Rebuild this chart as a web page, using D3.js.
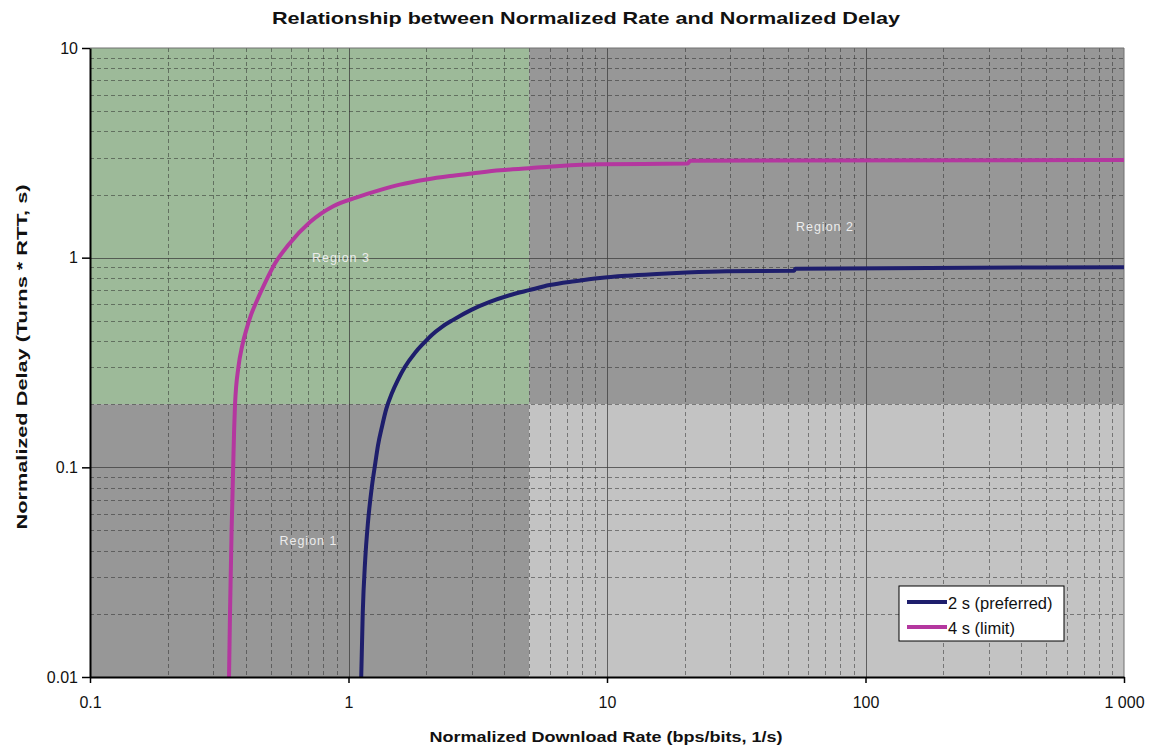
<!DOCTYPE html>
<html>
<head>
<meta charset="utf-8">
<script src="https://cdn.jsdelivr.net/npm/d3@7"></script>
<style>
  html, body { margin: 0; padding: 0; background: #ffffff; }
  svg { display: block; font-family: "Liberation Sans", Arial, sans-serif; }
</style>
</head>
<body>
<svg id="chart" width="1160" height="748"></svg>
<script>
// Normalized download rate (1/s) and normalized delay (s) along each delay budget curve
const preferredRate  = [1.12, 1.135, 1.16, 1.19, 1.23, 1.27, 1.30, 1.35, 1.40, 1.47, 1.55, 1.65, 1.81, 1.95, 2.1, 2.3, 2.54, 3.0, 3.52, 4.2, 5.0, 6.0, 7.5, 9.4, 12, 15.6, 20.3, 29, 53, 53.5, 1000];
const preferredDelay = [0.01, 0.02, 0.036, 0.055, 0.08, 0.105, 0.127, 0.158, 0.19, 0.225, 0.26, 0.30, 0.352, 0.39, 0.428, 0.468, 0.505, 0.565, 0.615, 0.662, 0.70, 0.74, 0.772, 0.80, 0.82, 0.836, 0.85, 0.862, 0.866, 0.886, 0.90];

const limitRate  = [0.345, 0.348, 0.351, 0.353, 0.356, 0.358, 0.361, 0.364, 0.375, 0.388, 0.404, 0.42, 0.44, 0.476, 0.52, 0.585, 0.71, 0.873, 1.076, 1.32, 1.58, 2.0, 2.47, 3.0, 3.86, 5.0, 6.57, 9.4, 20.5, 21, 1000];
const limitDelay = [0.01, 0.02, 0.035, 0.05, 0.075, 0.1, 0.15, 0.2, 0.3, 0.38, 0.46, 0.535, 0.615, 0.76, 0.94, 1.15, 1.48, 1.76, 1.94, 2.10, 2.23, 2.36, 2.45, 2.52, 2.61, 2.67, 2.74, 2.79, 2.81, 2.90, 2.92];

const seriesNames = ["2 s (preferred)", "4 s (limit)"];

// Operating regions: rate span and delay span
const regionNames  = ["Region 3", "Region 2", "Region 1", ""];
const regionRates  = [[0.1, 5], [5, 1000], [0.1, 5], [5, 1000]];
const regionDelays = [[0.2, 10], [0.2, 10], [0.01, 0.2], [0.01, 0.2]];
// where each region's name sits, in rate / delay units
const regionLabelRate  = [0.935, 69.7, 0.70, null];
const regionLabelDelay = [1.0, 1.4, 0.0446, null];

const xTickValues = [0.1, 1, 10, 100, 1000];
const xTickLabels = ["0.1", "1", "10", "100", "1 000"];
const yTickValues = [0.01, 0.1, 1, 10];
const yTickLabels = ["0.01", "0.1", "1", "10"];

const titleText = "Relationship between Normalized Rate and Normalized Delay";
const xTitle = "Normalized Download Rate (bps/bits, 1/s)";
const yTitle = "Normalized Delay (Turns * RTT, s)";

// ---- layout ----
const svg = d3.select("#chart");
const margin = { left: 90, right: 36, top: 48, bottom: 71 };
const W = 1160, H = 748;
const x = d3.scaleLog().domain([0.1, 1000]).range([margin.left, W - margin.right]);
const y = d3.scaleLog().domain([0.01, 10]).range([H - margin.bottom, margin.top]);

const regionColors = ["#9dba99", "#979797", "#979797", "#c3c3c3"];
const seriesColors = ["#1e1e6c", "#b4379f"];

// region backgrounds
const regions = regionNames.map((n, i) => ({ name: n, r: regionRates[i], d: regionDelays[i], color: regionColors[i], lr: regionLabelRate[i], ld: regionLabelDelay[i] }));
svg.append("g").selectAll("rect").data(regions).join("rect")
  .attr("x", d => x(d.r[0]))
  .attr("y", d => y(d.d[1]))
  .attr("width", d => x(d.r[1]) - x(d.r[0]))
  .attr("height", d => y(d.d[0]) - y(d.d[1]))
  .attr("fill", d => d.color);

// grid lines: dashed at 2..9 of each decade, solid at decades
const grid = svg.append("g");
const xMinor = x.ticks().filter(v => v > 0.1 && v < 1000);
const yMinor = y.ticks().filter(v => v > 0.01 && v < 10);
const isDecade = v => Math.abs(Math.log10(v) - Math.round(Math.log10(v))) < 1e-9;

grid.selectAll(".gx").data(xMinor).join("line")
  .attr("x1", d => Math.round(x(d)) + 0.5).attr("x2", d => Math.round(x(d)) + 0.5)
  .attr("y1", y(10)).attr("y2", y(0.01))
  .attr("stroke", d => isDecade(d) ? "rgba(60,60,60,0.75)" : "rgba(40,40,40,0.5)")
  .attr("stroke-width", 1)
  .attr("stroke-dasharray", d => isDecade(d) ? null : "4,3");

grid.selectAll(".gy").data(yMinor).join("line")
  .attr("y1", d => Math.round(y(d)) + 0.5).attr("y2", d => Math.round(y(d)) + 0.5)
  .attr("x1", x(0.1)).attr("x2", x(1000))
  .attr("stroke", d => isDecade(d) ? "rgba(60,60,60,0.75)" : "rgba(40,40,40,0.5)")
  .attr("stroke-width", 1)
  .attr("stroke-dasharray", d => isDecade(d) ? null : "4,3");

// plot border (top and right)
svg.append("path")
  .attr("d", `M${x(0.1)},${y(10)}H${x(1000)}V${y(0.01)}`)
  .attr("fill", "none").attr("stroke", "#707070").attr("stroke-width", 1);

// region names
svg.append("g").selectAll("text").data(regions.filter(d => d.name)).join("text")
  .attr("x", d => x(d.lr)).attr("y", d => y(d.ld))
  .attr("text-anchor", "middle").attr("dominant-baseline", "central")
  .attr("font-size", 12.5).attr("letter-spacing", 1)
  .attr("fill", "#ececec")
  .text(d => d.name);

// curves
const line = d3.line().x(d => x(d[0])).y(d => y(d[1])).curve(d3.curveMonotoneX);
const series = [
  { name: seriesNames[0], pts: preferredRate.map((r, i) => [r, preferredDelay[i]]), color: seriesColors[0] },
  { name: seriesNames[1], pts: limitRate.map((r, i) => [r, limitDelay[i]]), color: seriesColors[1] }
];
svg.append("g").selectAll("path").data(series).join("path")
  .attr("d", d => line(d.pts))
  .attr("fill", "none")
  .attr("stroke", d => d.color)
  .attr("stroke-width", 4)
  .attr("stroke-linejoin", "round");

// axes
const xAxis = d3.axisBottom(x).tickValues(xTickValues).tickFormat((d, i) => xTickLabels[i]).tickSize(6).tickSizeOuter(0);
const gx = svg.append("g").attr("transform", `translate(0,${y(0.01)})`).call(xAxis);
gx.select(".domain").attr("stroke", "#000").attr("stroke-width", 2);
gx.selectAll(".tick line").attr("stroke", "#000").attr("stroke-width", 1.5);
gx.selectAll(".tick text").attr("font-size", 16).attr("fill", "#111").attr("y", 20).attr("dy", "0.71em")
  .attr("font-family", "Liberation Sans, Arial, sans-serif");

const yAxis = d3.axisLeft(y).tickValues(yTickValues).tickFormat((d, i) => yTickLabels[i]).tickSize(8).tickSizeOuter(0);
const gy = svg.append("g").attr("transform", `translate(${x(0.1)},0)`).call(yAxis);
gy.select(".domain").attr("stroke", "#000").attr("stroke-width", 2);
gy.selectAll(".tick line").attr("stroke", "#000").attr("stroke-width", 1.5);
gy.selectAll(".tick text").attr("font-size", 16).attr("fill", "#111").attr("x", -12)
  .attr("font-family", "Liberation Sans, Arial, sans-serif");

// titles
svg.append("text").attr("x", 586).attr("y", 24).attr("text-anchor", "middle")
  .attr("font-size", 17).attr("font-weight", "bold").attr("fill", "#111")
  .attr("textLength", 628).attr("lengthAdjust", "spacingAndGlyphs")
  .text(titleText);
svg.append("text").attr("x", 606).attr("y", 742).attr("text-anchor", "middle")
  .attr("font-size", 15).attr("font-weight", "bold").attr("fill", "#111")
  .attr("textLength", 353).attr("lengthAdjust", "spacingAndGlyphs")
  .text(xTitle);
svg.append("text").attr("transform", "translate(27,357) rotate(-90)").attr("text-anchor", "middle")
  .attr("font-size", 15).attr("font-weight", "bold").attr("fill", "#111")
  .attr("textLength", 345).attr("lengthAdjust", "spacingAndGlyphs")
  .text(yTitle);

// legend
const lg = svg.append("g").attr("transform", "translate(899,586)");
lg.append("rect").attr("width", 165).attr("height", 55)
  .attr("fill", "#ffffff").attr("stroke", "#000").attr("stroke-width", 1);
const items = lg.selectAll(".item").data(series).join("g")
  .attr("transform", (d, i) => `translate(0,${16 + i * 25})`);
items.append("line").attr("x1", 8).attr("x2", 48).attr("y1", 0).attr("y2", 0)
  .attr("stroke", d => d.color).attr("stroke-width", 4);
items.append("text").attr("x", 49).attr("y", 1).attr("dominant-baseline", "central")
  .attr("font-size", 16.5).attr("fill", "#111").text(d => d.name);
</script>
</body>
</html>
